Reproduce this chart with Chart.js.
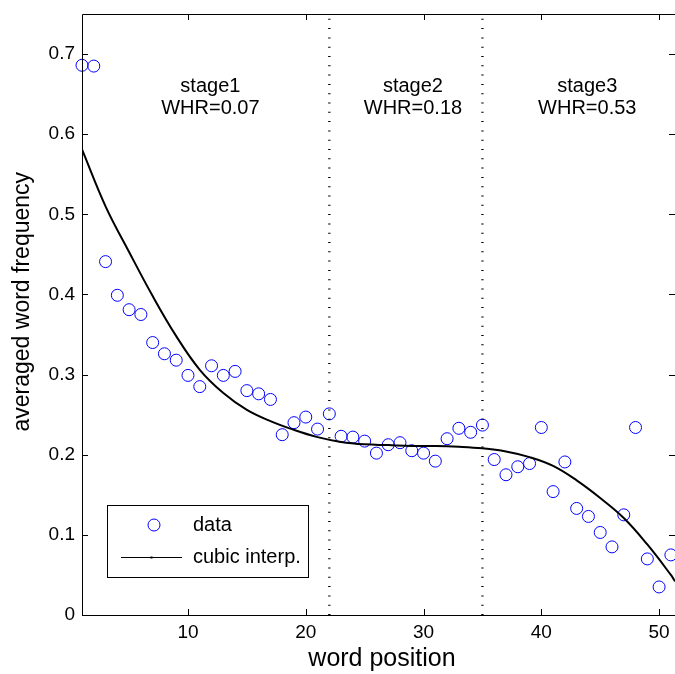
<!DOCTYPE html>
<html>
<head>
<meta charset="utf-8">
<script src="https://cdn.jsdelivr.net/npm/chart.js@4"></script>
<style>
  body { margin: 0; background: #fff; }
  #chart { display: block; }
</style>
</head>
<body>
<canvas id="chart" width="675" height="674"></canvas>
<script>
// word positions and averaged frequencies
const positions = [1, 2, 3, 4, 5, 6, 7, 8, 9, 10, 11, 12, 13, 14, 15, 16, 17, 18, 19, 20,
    21, 22, 23, 24, 25, 26, 27, 28, 29, 30, 31, 32, 33, 34, 35, 36, 37, 38, 39, 40,
    41, 42, 43, 44, 45, 46, 47, 48, 49, 50, 51];
const frequency = [0.686, 0.685, 0.441, 0.399, 0.381, 0.375, 0.340, 0.326, 0.318, 0.299,
    0.285, 0.311, 0.299, 0.304, 0.280, 0.276, 0.269, 0.225, 0.240, 0.247,
    0.232, 0.251, 0.223, 0.222, 0.217, 0.202, 0.2125, 0.215, 0.205, 0.202,
    0.192, 0.220, 0.233, 0.228, 0.237, 0.194, 0.175, 0.185, 0.189, 0.234,
    0.154, 0.191, 0.133, 0.123, 0.103, 0.085, 0.125, 0.234, 0.070, 0.035, 0.075];

// cubic fit curve
const curveX = [1, 3, 5, 7, 9, 11, 13, 15, 17, 19, 21, 23, 25, 27, 29, 31, 33, 35, 37, 39, 41, 43, 45, 47, 49, 51, 51.35];
const curveY = [0.581, 0.510, 0.453, 0.398, 0.348, 0.306, 0.277, 0.256, 0.242, 0.231, 0.222, 0.216, 0.213, 0.212, 0.211, 0.211, 0.210, 0.208, 0.204, 0.197, 0.186, 0.168, 0.146, 0.121, 0.088, 0.050, 0.042];

// stage boundaries and labels
const stageBounds = [22, 35];
const stageNames = ['stage1', 'stage2', 'stage3'];
const stageWHR = ['WHR=0.07', 'WHR=0.18', 'WHR=0.53'];
const stageLabelX = [11.9, 29.1, 43.9];
const stageLabelY = [0.660, 0.632];

const xTicks = [10, 20, 30, 40, 50];
const yTicks = [0, 0.1, 0.2, 0.3, 0.4, 0.5, 0.6, 0.7];

const FONT = 'Liberation Sans, Arial, sans-serif';
const BLUE = '#0000ff';

const datasets = [];
stageBounds.forEach(b => {
    datasets.push({
        label: 'bound',
        data: [{ x: b, y: 0 }, { x: b, y: 0.75 }],
        showLine: true,
        borderColor: '#000',
        borderWidth: 2.4,
        borderDash: [1, 8.3],
        pointRadius: 0,
        fill: false
    });
});
datasets.push({
    label: 'cubic interp.',
    data: curveX.map((x, i) => ({ x: x, y: curveY[i] })),
    showLine: true,
    borderColor: '#000',
    borderWidth: 2,
    pointRadius: 0,
    tension: 0.4,
    fill: false,
    clip: 0
});
datasets.push({
    label: 'data',
    data: positions.map((x, i) => ({ x: x, y: frequency[i] })),
    showLine: false,
    pointStyle: 'circle',
    pointRadius: 6,
    pointBorderWidth: 1,
    pointBorderColor: BLUE,
    pointBackgroundColor: 'rgba(0,0,0,0)',
    clip: false
});

// frame with inward ticks, stage text and the boxed legend
const decorPlugin = {
    id: 'decor',
    afterDatasetsDraw(chart) {
        const ctx = chart.ctx;
        const a = chart.chartArea;
        const xs = chart.scales.x, ys = chart.scales.y;
        const tick = 6;
        ctx.save();
        ctx.strokeStyle = '#000';
        ctx.lineWidth = 1;
        ctx.beginPath();
        ctx.rect(a.left + 0.5, a.top + 0.5, a.right - a.left, a.bottom - a.top);
        xTicks.forEach(v => {
            const px = Math.round(xs.getPixelForValue(v)) + 0.5;
            ctx.moveTo(px, a.bottom); ctx.lineTo(px, a.bottom - tick);
            ctx.moveTo(px, a.top); ctx.lineTo(px, a.top + tick);
        });
        yTicks.forEach(v => {
            const py = Math.round(ys.getPixelForValue(v)) + 0.5;
            ctx.moveTo(a.left, py); ctx.lineTo(a.left + tick, py);
            ctx.moveTo(a.right, py); ctx.lineTo(a.right - tick, py);
        });
        ctx.stroke();

        // stage labels
        ctx.fillStyle = '#000';
        ctx.font = '20px ' + FONT;
        ctx.textAlign = 'center';
        ctx.textBaseline = 'middle';
        stageNames.forEach((s, i) => {
            const px = xs.getPixelForValue(stageLabelX[i]);
            ctx.fillText(s, px, ys.getPixelForValue(stageLabelY[0]));
            ctx.fillText(stageWHR[i], px, ys.getPixelForValue(stageLabelY[1]));
        });

        // legend
        const lx = a.left + 25, ly = a.bottom - 110, lw = 201, lh = 72;
        ctx.fillStyle = '#fff';
        ctx.fillRect(lx, ly, lw, lh);
        ctx.strokeStyle = '#000';
        ctx.lineWidth = 1;
        ctx.strokeRect(lx + 0.5, ly + 0.5, lw, lh);
        ctx.strokeStyle = BLUE;
        ctx.beginPath();
        ctx.arc(lx + 47, ly + 20, 6, 0, Math.PI * 2);
        ctx.stroke();
        ctx.strokeStyle = '#000';
        ctx.beginPath();
        ctx.moveTo(lx + 14, ly + 52.5);
        ctx.lineTo(lx + 75, ly + 52.5);
        ctx.stroke();
        ctx.fillStyle = '#000';
        ctx.fillRect(lx + 43.5, ly + 51.5, 2, 2);
        ctx.font = '20px ' + FONT;
        ctx.textAlign = 'left';
        ctx.fillText('data', lx + 86, ly + 20);
        ctx.fillText('cubic interp.', lx + 86, ly + 52);
        ctx.restore();
    }
};

new Chart(document.getElementById('chart'), {
    type: 'scatter',
    data: { datasets: datasets },
    options: {
        responsive: false,
        animation: false,
        layout: { autoPadding: false, padding: { top: 14, right: 0, left: 0, bottom: 0 } },
        plugins: { legend: { display: false }, tooltip: { enabled: false } },
        scales: {
            x: {
                type: 'linear',
                min: 1,
                max: 51.35,
                grid: { display: false, drawTicks: false },
                border: { display: false },
                afterBuildTicks: s => { s.ticks = xTicks.map(v => ({ value: v })); },
                afterFit: s => { s.height = 59; s.paddingLeft = 0; s.paddingRight = 0; },
                ticks: {
                    color: '#000',
                    font: { family: FONT, size: 19 },
                    padding: 6,
                    maxRotation: 0,
                    callback: v => String(v)
                },
                title: {
                    display: true,
                    text: ' word position',
                    color: '#000',
                    font: { family: FONT, size: 25 },
                    padding: { top: 0, bottom: 0 }
                }
            },
            y: {
                type: 'linear',
                min: 0,
                max: 0.75,
                grid: { display: false, drawTicks: false },
                border: { display: false },
                afterBuildTicks: s => { s.ticks = yTicks.map(v => ({ value: v })); },
                afterFit: s => { s.width = 82; s.paddingTop = 0; s.paddingBottom = 0; },
                ticks: {
                    color: '#000',
                    font: { family: FONT, size: 19 },
                    padding: 7,
                    callback: v => String(Math.round(v * 10) / 10)
                },
                title: {
                    display: true,
                    text: '    averaged word frequency',
                    color: '#000',
                    font: { family: FONT, size: 23 },
                    padding: { top: 9, bottom: 0 }
                }
            }
        }
    },
    plugins: [decorPlugin]
});
</script>
</body>
</html>
